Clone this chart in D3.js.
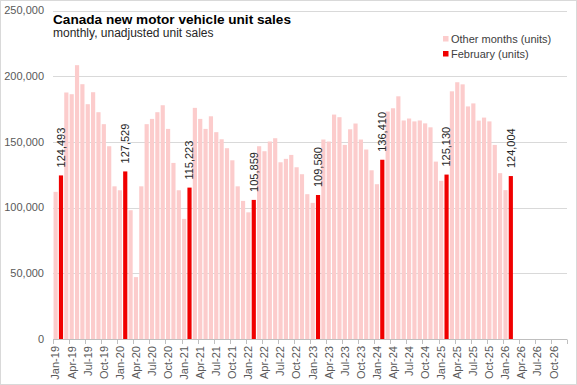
<!DOCTYPE html>
<html>
<head>
<meta charset="utf-8">
<script src="https://cdn.jsdelivr.net/npm/d3@7"></script>
<style>
  body { margin: 0; background: #fff; }
  svg { display: block; font-family: "Liberation Sans", Arial, sans-serif; }
</style>
</head>
<body>
<script>
// categories: Jan-19 .. Dec-26
const years = ["19", "20", "21", "22", "23", "24", "25", "26"];
const monthNames = ["Jan", "Feb", "Mar", "Apr", "May", "Jun", "Jul", "Aug", "Sep", "Oct", "Nov", "Dec"];
const categories = years.flatMap(y => monthNames.map(m => m + "-" + y));

// monthly unit sales, Jan-19 .. Feb-26
const sales = [
  112000, 124493, 187600, 186300, 208400, 193900, 178700, 187800, 172600, 163500, 146700, 116200,
  113200, 127529,  98000,  47100, 116200, 163500, 167500, 172600, 177900, 159900, 134000, 113200,
   91400, 115223, 175900, 167500, 159900, 169500, 157400, 152000, 145200, 136000, 116200, 105100,
   96400, 105859, 146700, 142900, 150300, 152800, 134500, 137100, 140100, 130700, 125400, 110200,
  103600, 109580, 151800, 150300, 170800, 168800, 147700, 159600, 164000, 151800, 144200, 128400,
  117800, 136410, 173100, 175600, 184700, 166300, 167800, 165600, 166300, 164100, 161100, 135000,
  120400, 125130, 188500, 195400, 193800, 177000, 179300, 166200, 168500, 165600, 147700, 126200,
  113300, 124004
];

const yTicks = [0, 50000, 100000, 150000, 200000, 250000];
const legendItems = ["Other months (units)", "February (units)"];

const w = 577, h = 385;
const colOther = "#fccccc", colFeb = "#f00000";

const svg = d3.select("body").append("svg")
  .attr("width", w).attr("height", h);

svg.append("rect")
  .attr("x", 0.5).attr("y", 0.5)
  .attr("width", w - 1).attr("height", h - 1)
  .attr("fill", "#fff").attr("stroke", "#d9d9d9");

const x = d3.scaleBand().domain(categories).range([53, 567]).paddingInner(0.22).paddingOuter(0.1);
const y = d3.scaleLinear().domain([0, 250000]).range([339, 10.5]);

// gridlines
svg.append("g").selectAll("line")
  .data(yTicks.slice(1))
  .enter().append("line")
  .attr("x1", 53).attr("x2", 567)
  .attr("y1", d => Math.round(y(d)) + 0.5)
  .attr("y2", d => Math.round(y(d)) + 0.5)
  .attr("stroke", "#d9d9d9");

// y axis labels
svg.append("g").selectAll("text")
  .data(yTicks)
  .enter().append("text")
  .attr("x", 44)
  .attr("y", d => y(d))
  .attr("dy", "0.35em")
  .attr("text-anchor", "end")
  .attr("font-size", 11)
  .attr("fill", "#595959")
  .text(d => d3.format(",")(d));

const data = sales.map((v, i) => ({ cat: categories[i], v: v, feb: i % 12 === 1 }));

svg.append("g").selectAll("rect")
  .data(data)
  .enter().append("rect")
  .attr("x", d => x(d.cat))
  .attr("y", d => y(d.v))
  .attr("width", x.bandwidth())
  .attr("height", d => y(0) - y(d.v))
  .attr("fill", d => d.feb ? colFeb : colOther);

// data labels on February bars
svg.append("g").selectAll("text")
  .data(data.filter(d => d.feb))
  .enter().append("text")
  .attr("transform", d => `translate(${x(d.cat) + x.bandwidth() / 2},${y(d.v) - 8}) rotate(-90)`)
  .attr("dy", "0.35em")
  .attr("font-size", 11)
  .attr("fill", "#262626")
  .text(d => d3.format(",")(d.v));

// x axis
svg.append("line")
  .attr("x1", 53).attr("x2", 567)
  .attr("y1", 339.5).attr("y2", 339.5)
  .attr("stroke", "#bfbfbf");

const tickCats = categories.filter((c, i) => i % 3 === 0);

svg.append("g").selectAll("line")
  .data(tickCats.concat(["end"]))
  .enter().append("line")
  .attr("x1", (d, i) => Math.round(53 + i * 3 * (514 / 96)) + 0.5)
  .attr("x2", (d, i) => Math.round(53 + i * 3 * (514 / 96)) + 0.5)
  .attr("y1", 339.5).attr("y2", 344)
  .attr("stroke", "#bfbfbf");

svg.append("g").selectAll("text")
  .data(tickCats)
  .enter().append("text")
  .attr("transform", d => `translate(${x(d) + x.bandwidth() / 2},346) rotate(-90)`)
  .attr("dy", "0.35em")
  .attr("text-anchor", "end")
  .attr("font-size", 11)
  .attr("fill", "#595959")
  .text(d => d);

// title
svg.append("text")
  .attr("x", 53).attr("y", 24)
  .attr("font-size", 13.6).attr("font-weight", "bold")
  .attr("fill", "#000")
  .text("Canada new motor vehicle unit sales");

svg.append("text")
  .attr("x", 53).attr("y", 37)
  .attr("font-size", 12)
  .attr("fill", "#262626")
  .text("monthly, unadjusted unit sales");

// legend
const lg = svg.append("g").selectAll("g")
  .data(legendItems)
  .enter().append("g")
  .attr("transform", (d, i) => `translate(443,${39 + i * 15})`);

lg.append("rect")
  .attr("x", 0).attr("y", -3)
  .attr("width", 5.5).attr("height", 5.5)
  .attr("fill", (d, i) => i === 0 ? colOther : colFeb);

lg.append("text")
  .attr("x", 8).attr("y", 0)
  .attr("dy", "0.35em")
  .attr("font-size", 11)
  .attr("fill", "#404040")
  .text(d => d);
</script>
</body>
</html>
